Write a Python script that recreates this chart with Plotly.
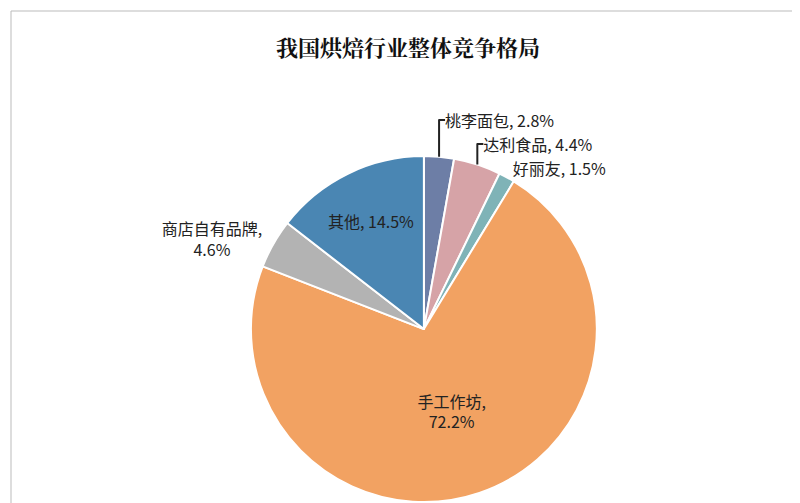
import plotly.graph_objects as go

labels = ["桃李面包", "达利食品", "好丽友", "手工作坊", "商店自有品牌", "其他"]
values = [2.8, 4.4, 1.5, 72.2, 4.6, 14.5]
colors = ["#6d7ea6", "#d6a3a7", "#7fb3b7", "#f2a262", "#b3b3b3", "#4a86b3"]
templates = ["%{label}, %{value}%", "%{label}, %{value}%", "%{label}, %{value}%",
             "%{label},<br>%{value}%", "%{label},<br>%{value}%", "%{label}, %{value}%"]
positions = ["outside", "outside", "outside", "inside", "outside", "inside"]

fig = go.Figure(go.Pie(
    labels=labels, values=values, sort=False, direction="clockwise", rotation=0,
    marker=dict(colors=colors, line=dict(color="white", width=2)),
    texttemplate=templates, textposition=positions, insidetextorientation="horizontal",
    textfont=dict(family="Noto Sans CJK SC", size=16, color="#222"),
    showlegend=False, hoverinfo="skip",
    domain=dict(x=[0.27, 0.77], y=[0.012, 0.708]),
))
fig.update_layout(
    width=800, height=503, margin=dict(l=3, r=3, t=3, b=3),
    paper_bgcolor="white", plot_bgcolor="white",
    title=dict(text="<b>我国烘焙行业整体竞争格局</b>", x=0.5, xanchor="center", y=0.92, yanchor="middle",
               font=dict(family="Noto Serif CJK SC, Noto Sans CJK SC", size=22, color="#111")),
    shapes=[dict(type="rect", xref="paper", yref="paper", x0=0, y0=0, x1=1, y1=1,
                 line=dict(color="#bbb", width=1))],
)
fig.write_html("out.html")
